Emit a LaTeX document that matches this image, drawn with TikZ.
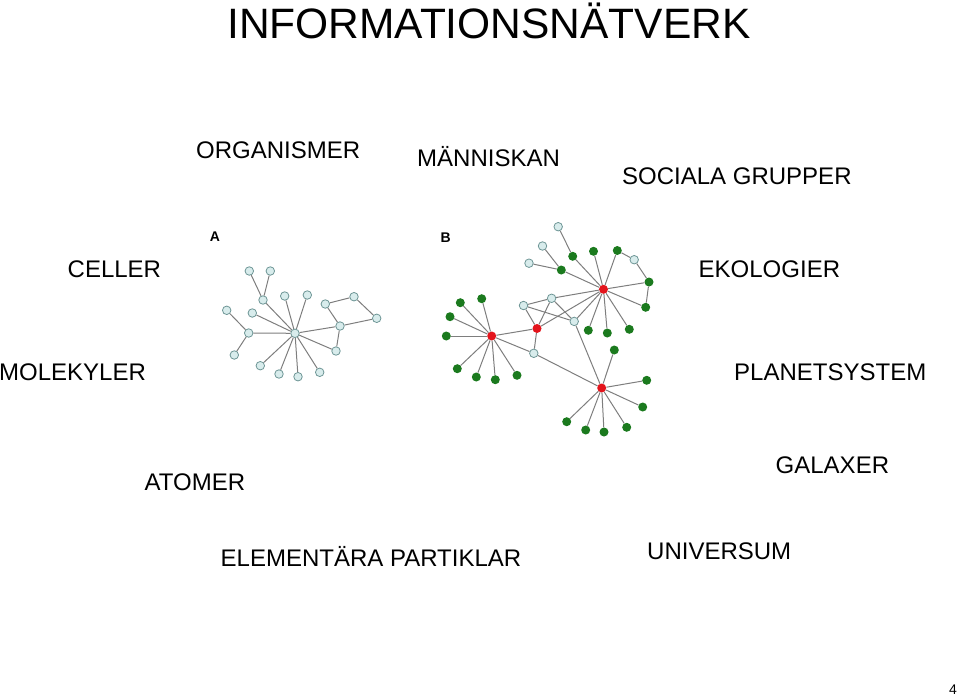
\documentclass[tikz,border=0pt]{standalone}
\usepackage{fontspec}
\setmainfont{Liberation Sans}
\definecolor{nodefill}{HTML}{D8ECEC}
\definecolor{nodeedge}{HTML}{6E9696}
\definecolor{gnode}{HTML}{1B7A1E}
\definecolor{rnode}{HTML}{E3141C}
\definecolor{edgegray}{HTML}{7E7E7E}
\begin{document}
\begin{tikzpicture}[x=1pt,y=-1pt,
  lbl/.style={anchor=base west,inner sep=0pt,font=\fontsize{24}{28}\selectfont},
  lt/.style={circle,draw=nodeedge,fill=nodefill,line width=0.8pt,minimum size=8.5pt,inner sep=0pt},
  gr/.style={circle,fill=gnode,minimum size=9pt,inner sep=0pt},
  rd/.style={circle,fill=rnode,minimum size=9pt,inner sep=0pt},
  ln/.style={draw=edgegray,line width=1pt}]
\useasboundingbox (0,0) rectangle (960,697);

% texts
\node[anchor=base west,inner sep=0pt,font=\fontsize{42.5}{46}\selectfont] (title) at (227,38.5) {INFORMATIONSNÄTVERK};
\node[lbl] (t1) at (196,158.5) {ORGANISMER};
\node[lbl] (t2) at (417,166) {MÄNNISKAN};
\node[lbl] (t3) at (622,184) {SOCIALA GRUPPER};
\node[lbl] (t4) at (67.5,277.3) {CELLER};
\node[lbl] (t5) at (698.5,277.3) {EKOLOGIER};
\node[lbl] (t6) at (-1,380) {MOLEKYLER};
\node[lbl] (t7) at (734,380) {PLANETSYSTEM};
\node[lbl] (t8) at (144.5,490.7) {ATOMER};
\node[lbl] (t9) at (775.5,473) {GALAXER};
\node[lbl] (t10) at (220.5,566) {ELEMENTÄRA PARTIKLAR};
\node[lbl] (t11) at (647,559.3) {UNIVERSUM};
\node[anchor=base east,inner sep=0pt,font=\fontsize{14}{16}\selectfont] (pg) at (957,694.5) {4};

\node[font=\bfseries\fontsize{14}{14}\selectfont,inner sep=0pt] (la) at (215,237) {A};
\node[font=\bfseries\fontsize{14}{14}\selectfont,inner sep=0pt] (lb) at (445.7,237.7) {B};

% ---------- panel A ----------
\node[lt] (ha) at (295,333.3) {};
\node[lt] (a1) at (249.3,271) {};
\node[lt] (a2) at (270.3,271) {};
\node[lt] (a3) at (263,300) {};
\node[lt] (a4) at (284.7,296) {};
\node[lt] (a5) at (307.3,295) {};
\node[lt] (a6) at (325.3,304) {};
\node[lt] (a7) at (354,296.7) {};
\node[lt] (a8) at (376.7,318.3) {};
\node[lt] (a9) at (340,326) {};
\node[lt] (a10) at (336,351) {};
\node[lt] (a11) at (226.7,310.3) {};
\node[lt] (a12) at (252.3,313) {};
\node[lt] (a13) at (248.7,333) {};
\node[lt] (a14) at (234.3,355) {};
\node[lt] (a15) at (260.3,365.7) {};
\node[lt] (a16) at (279,374) {};
\node[lt] (a17) at (298,376.7) {};
\node[lt] (a18) at (319.7,372.3) {};
\foreach \u/\v in {a1/a3,a2/a3,a3/ha,a4/ha,a5/ha,a12/ha,a13/ha,a11/a13,a14/a13,
  a15/ha,a16/ha,a17/ha,a18/ha,ha/a9,ha/a10,a9/a10,a6/a9,a6/a7,a7/a8,a8/a9}
  \draw[ln] (\u) -- (\v);

% ---------- panel B ----------
\node[rd] (r1) at (491.7,336) {};
\node[rd] (r2) at (537,328.5) {};
\node[rd] (r3) at (603.5,289.3) {};
\node[rd] (r4) at (601.7,388) {};
\node[lt] (l1) at (558.2,226.7) {};
\node[lt] (l2) at (542.5,246) {};
\node[lt] (l3) at (529,263.2) {};
\node[lt] (l4) at (634.2,259.7) {};
\node[lt] (l5) at (551.6,298.3) {};
\node[lt] (l6) at (523.5,305.5) {};
\node[lt] (l7) at (574.2,321.4) {};
\node[lt] (l8) at (533.8,353.3) {};
% greens around r1
\node[gr] (ga1) at (460.3,302.7) {};
\node[gr] (ga2) at (481.7,298.7) {};
\node[gr] (ga3) at (450,316.7) {};
\node[gr] (ga4) at (446.3,336) {};
\node[gr] (ga5) at (457.3,368.7) {};
\node[gr] (ga6) at (476.3,377) {};
\node[gr] (ga7) at (495.3,379.7) {};
\node[gr] (ga8) at (517,375.3) {};
% greens around r3
\node[gr] (gb1) at (572.7,256.3) {};
\node[gr] (gb2) at (561.3,270) {};
\node[gr] (gb3) at (593.5,251.3) {};
\node[gr] (gb4) at (617.3,250.5) {};
\node[gr] (gb5) at (649,282) {};
\node[gr] (gb6) at (645.7,307.3) {};
\node[gr] (gb7) at (629.3,329.3) {};
\node[gr] (gb8) at (607.3,333) {};
\node[gr] (gb9) at (588.3,330.3) {};
% greens around r4
\node[gr] (gc1) at (614.3,350) {};
\node[gr] (gc2) at (646.7,380.3) {};
\node[gr] (gc3) at (642.7,407) {};
\node[gr] (gc4) at (626.7,427.3) {};
\node[gr] (gc5) at (604,432) {};
\node[gr] (gc6) at (585.7,430) {};
\node[gr] (gc7) at (566.7,421.7) {};

\foreach \u/\v in {r1/ga1,r1/ga2,r1/ga3,r1/ga4,r1/ga5,r1/ga6,r1/ga7,r1/ga8,
  r1/r2,r1/l8,l8/r2,l8/r4,r2/l6,r2/l5,r2/r3,l6/l5,l6/l7,l5/l7,l5/r3,l7/r3,l7/r4,
  l1/gb1,gb1/r3,l2/gb2,l3/gb2,gb2/r3,gb3/r3,gb4/r3,gb4/l4,l4/gb5,gb5/r3,gb5/gb6,
  gb6/r3,gb7/r3,gb8/r3,gb9/r3,
  r4/gc1,r4/gc2,r4/gc3,r4/gc4,r4/gc5,r4/gc6,r4/gc7}
  \draw[ln] (\u) -- (\v);
\end{tikzpicture}
\end{document}
